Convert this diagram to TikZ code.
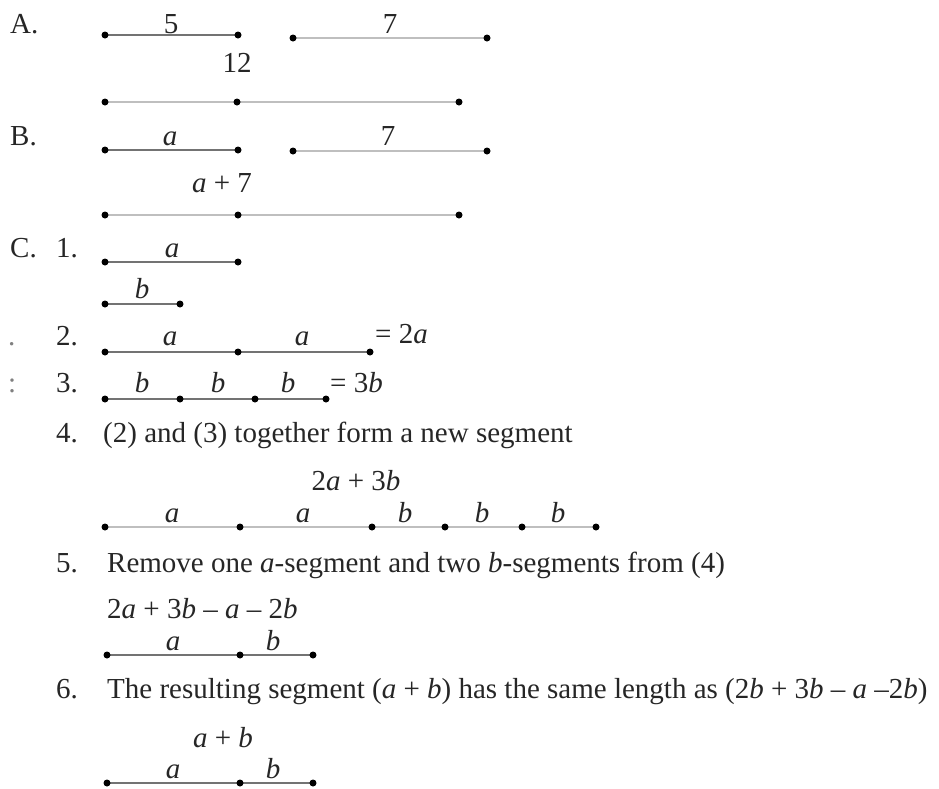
\documentclass[tikz,border=0pt]{standalone}
\usepackage{fontspec}
\setmainfont{Liberation Serif}
\newcommand{\vi}[1]{\textit{#1}}
\tikzset{
  pt/.style={fill=black},
  seg/.style={draw=black!55,line width=1.1pt},
  faint/.style={seg,draw=black!25},
  lbl/.style={anchor=base,inner sep=0pt,text=black!85,font=\fontsize{29}{34}\selectfont},
  txt/.style={lbl,anchor=base west},
  num/.style={lbl,anchor=base east},
}

\begin{document}
\begin{tikzpicture}[x=1pt,y=-1pt]
  \useasboundingbox (0,0) rectangle (939,788);
  % A
  \node[txt] (hA) at (10,33) {A.};
  \coordinate (a1) at (105,35);
  \coordinate (a2) at (238,35);
  \coordinate (a3) at (293,38);
  \coordinate (a4) at (487,38);
  \draw[seg] (a1) -- (a2);
  \draw[faint] (a3) -- (a4);
  \node[lbl] (la1) at (171,33) {5};
  \node[lbl] (la2) at (390,33) {7};
  \node[lbl] (la3) at (237,72) {12};
  \foreach \i/\x in {5/105,6/237,7/459} \coordinate (a\i) at (\x,102);
  \draw[faint] (a5) -- (a7);
  \foreach \i in {1,...,7} \fill[pt] (a\i) circle (3.5pt);
  % B
  \node[txt] (hB) at (10,145) {B.};
  \coordinate (b1) at (105,150);
  \coordinate (b2) at (238,150);
  \coordinate (b3) at (293,151);
  \coordinate (b4) at (487,151);
  \draw[seg] (b1) -- (b2);
  \draw[faint] (b3) -- (b4);
  \node[lbl] (lb1) at (170,145) {\vi{a}};
  \node[lbl] (lb2) at (388,145) {7};
  \node[lbl] (lb3) at (222,192) {\vi{a} + 7};
  \foreach \i/\x in {5/105,6/238,7/459} \coordinate (b\i) at (\x,215);
  \draw[faint] (b5) -- (b7);
  \foreach \i in {1,...,7} \fill[pt] (b\i) circle (3.5pt);
  % C
  \node[txt] (hC) at (10,257) {C.};
  \node[num] (n1) at (78,257) {1.};
  \coordinate (c1) at (105,262);
  \coordinate (c2) at (238,262);
  \draw[seg] (c1) -- (c2);
  \node[lbl] (lc1) at (172,257) {\vi{a}};
  \coordinate (c3) at (105,304);
  \coordinate (c4) at (180,304);
  \draw[seg] (c3) -- (c4);
  \node[lbl] (lc2) at (142,298) {\vi{b}};
  \foreach \i in {1,...,4} \fill[pt] (c\i) circle (3.5pt);
  \node[txt, text=black!50] (m2) at (8,345) {.};
  \node[num] (n2) at (78,345) {2.};
  \foreach \i/\x in {1/105,2/238,3/370} \coordinate (e\i) at (\x,352);
  \draw[seg] (e1) -- (e3);
  \foreach \i in {1,...,3} \fill[pt] (e\i) circle (3.5pt);
  \node[lbl] (le1) at (170,345) {\vi{a}};
  \node[lbl] (le2) at (302,345) {\vi{a}};
  \node[txt] (le3) at (375,343) {= 2\vi{a}};
  \node[txt, text=black!50] (m3) at (8,392) {:};
  \node[num] (n3) at (78,392) {3.};
  \foreach \i/\x in {1/105,2/180,3/255,4/326} \coordinate (f\i) at (\x,399);
  \draw[seg] (f1) -- (f4);
  \foreach \i in {1,...,4} \fill[pt] (f\i) circle (3.5pt);
  \foreach \i/\x in {1/142,2/218,3/288} \node[lbl] (lf\i) at (\x,392) {\vi{b}};
  \node[txt] (lf4) at (330,392) {= 3\vi{b}};
  % 4
  \node[num] (n4) at (78,442) {4.};
  \node[txt] (t4) at (103,442) {(2) and (3) together form a new segment};
  \node[lbl] (lg0) at (356,490) {2\vi{a} + 3\vi{b}};
  \foreach \i/\x in {1/105,2/240,3/372,4/445,5/522,6/596} \coordinate (g\i) at (\x,527);
  \draw[faint] (g1) -- (g6);
  \foreach \i in {1,...,6} \fill[pt] (g\i) circle (3.5pt);
  \foreach \i/\x/\t in {1/172/a,2/303/a,3/405/b,4/482/b,5/558/b} \node[lbl] (lg\i) at (\x,522) {\vi{\t}};
  % 5
  \node[num] (n5) at (78,572) {5.};
  \node[txt] (t5) at (107,572) {Remove one \vi{a}-segment and two \vi{b}-segments from (4)};
  \node[txt] (lh0) at (107,618) {2\vi{a} + 3\vi{b} – \vi{a} – 2\vi{b}};
  \foreach \i/\x in {1/107,2/240,3/313} \coordinate (h\i) at (\x,655);
  \draw[seg] (h1) -- (h3);
  \foreach \i in {1,...,3} \fill[pt] (h\i) circle (3.5pt);
  \node[lbl] (lh1) at (173,650) {\vi{a}};
  \node[lbl] (lh2) at (273,650) {\vi{b}};
  % 6
  \node[num] (n6) at (78,698) {6.};
  \node[txt] (t6) at (107,698) {The resulting segment (\vi{a} + \vi{b}) has the same length as (2\vi{b} + 3\vi{b} – \vi{a} –2\vi{b})};
  \node[lbl] (lk0) at (223,747) {\vi{a} + \vi{b}};
  \foreach \i/\x in {1/107,2/240,3/313} \coordinate (k\i) at (\x,783);
  \draw[seg] (k1) -- (k3);
  \foreach \i in {1,...,3} \fill[pt] (k\i) circle (3.5pt);
  \node[lbl] (lk1) at (173,778) {\vi{a}};
  \node[lbl] (lk2) at (273,778) {\vi{b}};
\end{tikzpicture}
\end{document}
